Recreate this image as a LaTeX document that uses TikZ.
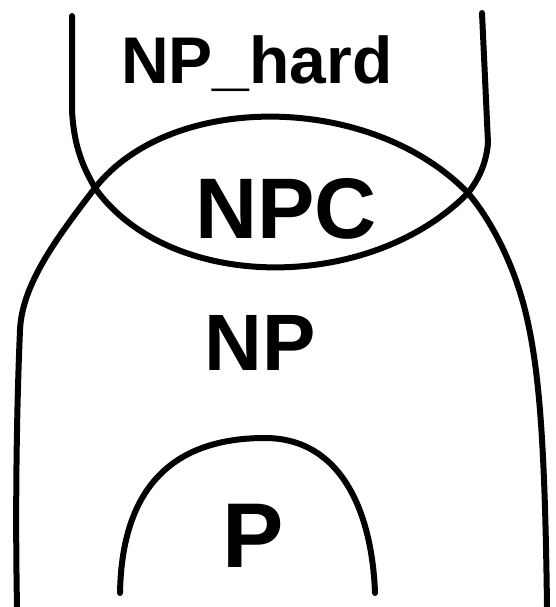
\documentclass[tikz,border=0pt]{standalone}
\usepackage{fontspec}
\setmainfont{Liberation Sans}
\usetikzlibrary{positioning}

\begin{document}
\begin{tikzpicture}[x=1pt,y=-1pt,
curve/.style={line width=6pt,line cap=round,line join=round},
lbl/.style={font=\bfseries\fontsize{#1}{#1}\selectfont,inner sep=0pt,anchor=base}]
\useasboundingbox (0,0) rectangle (555,607);
\coordinate (xl) at (95,188);
\coordinate (xr) at (468,193);
% NP-hard
\draw[curve] (72,16) -- (72,110) .. controls (74,150) and (85,170) .. (xl);
\draw[curve] (482,13) -- (488,143) .. controls (486,165) and (478,180) .. (xr);
% NPC
\draw[curve] (xl) .. controls (170,92) and (370,92) .. (xr);
\draw[curve] (xl) .. controls (170,293) and (370,293) .. (xr);
% NP
\draw[curve] (xl) .. controls (55,240) and (22,285) .. (20,330)
  .. controls (17,400) and (15,500) .. (17,607);
\draw[curve] (xr) .. controls (495,225) and (515,270) .. (525,310)
  .. controls (540,370) and (545,450) .. (547,607);
% P
\draw[curve] (120,593) .. controls (122,480) and (180,438) .. (265,438)
  .. controls (340,438) and (372,510) .. (375,593);
\node[lbl=66] (nphard) at (257,84) {NP\_hard};
\node[lbl=86] (npc) at (286,238) {NPC};
\node[lbl=80] (np) at (260,370) {NP};
\node[lbl=92] (p) at (253,567) {P};
\end{tikzpicture}
\end{document}
